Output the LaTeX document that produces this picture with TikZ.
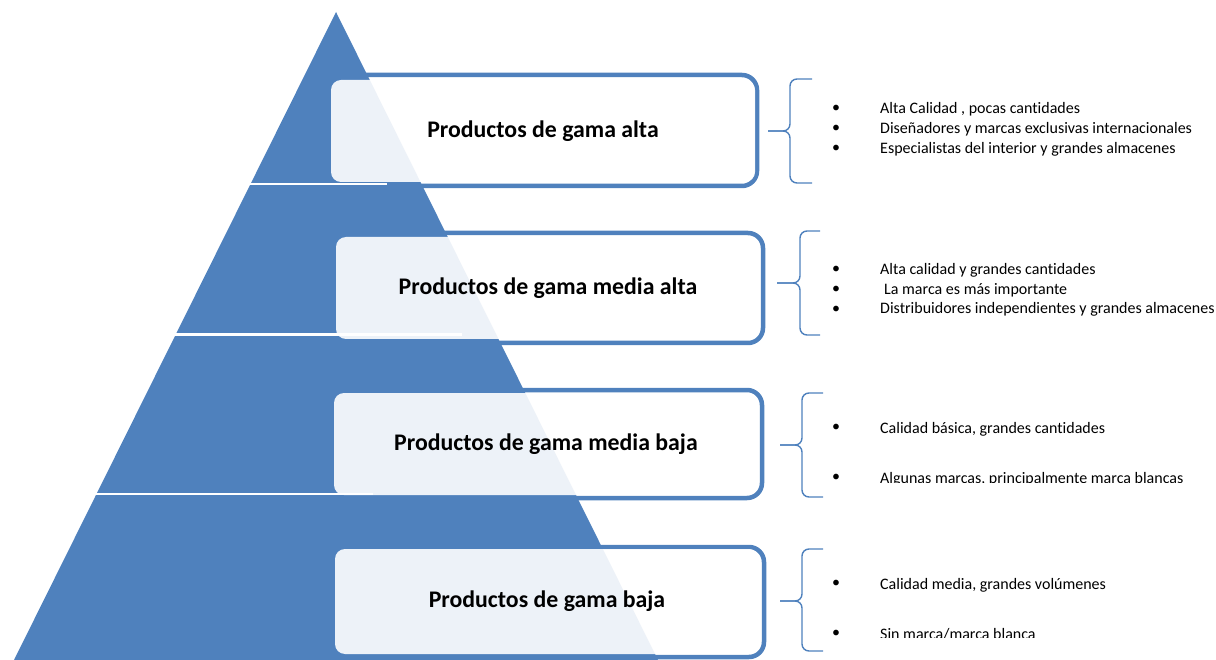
\documentclass[tikz,border=0pt]{standalone}
\usepackage{fontspec}
\setmainfont[Ligatures={TeX,NoCommon}]{Carlito}
\usetikzlibrary{positioning}
\definecolor{gamablue}{HTML}{4F81BD}

\begin{document}
\begin{tikzpicture}[x=1pt,y=-1pt,
  framebox/.style={draw=gamablue,line width=4.5pt,rounded corners=15pt,fill=white},
  lightbox/.style={rectangle,rounded corners=10pt,fill=white,fill opacity=0.9,text opacity=1,
    minimum width=424pt,minimum height=102pt,inner sep=0pt,font=\fontsize{23.8}{28}\selectfont\bfseries},
  gap/.style={white,line width=2.5pt},
  listbrace/.style={draw=gamablue,line width=1.4pt,rounded corners=7pt},
  bul/.style={inner sep=0pt,font=\fontsize{16}{19}\selectfont},
  itemtext/.style={anchor=base west,inner sep=0pt,font=\fontsize{16}{19}\selectfont}]
\useasboundingbox (0,0) rectangle (1216,660);
\clip (0,0) rectangle (1216,660);
% frames behind the pyramid
\draw[framebox] (320,75) rectangle (757,186);
\draw[framebox] (327,233) rectangle (763,343);
\draw[framebox] (324,390) rectangle (762,498);
\draw[framebox] (325,547) rectangle (764,657);
% pyramid
\fill[gamablue] (336,12) -- (14,660) -- (658,660) -- cycle;
% levels
\node[lightbox] (alta) at (543,131) {Productos de gama alta};
\node[lightbox] (mediaalta) at (548,288) {Productos de gama media alta};
\node[lightbox] (mediabaja) at (546,444) {Productos de gama media baja};
\node[lightbox,minimum height=105pt] (baja) at (547,601.5) {Productos de gama baja};
\draw[gap] (240,184) -- (387,184);
\draw[gap] (165,334.5) -- (462,334.5);
\draw[gap] (85,494) -- (373,494);
% braces
\draw[listbrace] (812,79) -- (790,79) -- (790,131) -- (768,131);
\draw[listbrace] (812,183) -- (790,183) -- (790,131) -- (768,131);
\draw[listbrace] (820,231) -- (800,231) -- (800,283) -- (777,283);
\draw[listbrace] (820,335) -- (800,335) -- (800,283) -- (777,283);
\draw[listbrace] (823,393) -- (802,393) -- (802,445) -- (780,445);
\draw[listbrace] (823,497) -- (802,497) -- (802,445) -- (780,445);
\draw[listbrace] (823,549) -- (802,549) -- (802,601) -- (780,601);
\draw[listbrace] (823,651) -- (802,651) -- (802,601) -- (780,601);
% lists
\node[bul] (b11) at (836,109) {•};
\node[itemtext] (t11) at (880,114) {Alta Calidad , pocas cantidades};
\node[bul] (b12) at (836,129) {•};
\node[itemtext] (t12) at (880,134) {Diseñadores y marcas exclusivas internacionales};
\node[bul] (b13) at (836,149) {•};
\node[itemtext] (t13) at (880,154) {Especialistas del interior y grandes almacenes};
\node[bul] (b21) at (836,270) {•};
\node[itemtext] (t21) at (880,275) {Alta calidad y grandes cantidades};
\node[bul] (b22) at (836,290) {•};
\node[itemtext] (t22) at (884,294.5) {La marca es más importante};
\node[bul] (b23) at (836,310) {•};
\node[itemtext] (t23) at (880,314) {Distribuidores independientes y grandes almacenes};
\node[bul] (b31) at (836,428) {•};
\node[itemtext] (t31) at (880,433) {Calidad básica, grandes cantidades};
\node[bul] (b41) at (836,584) {•};
\node[itemtext] (t41) at (880,589) {Calidad media, grandes volúmenes};
\begin{scope}
\clip (826,460) rectangle (1216,482);
\node[bul] (b32) at (836,478) {•};
\node[itemtext] (t32) at (880,483) {Algunas marcas, principalmente marca blancas};
\end{scope}
\begin{scope}
\clip (826,615) rectangle (1216,637);
\node[bul] (b42) at (836,634) {•};
\node[itemtext] (t42) at (880,639) {Sin marca/marca blanca};
\end{scope}
\end{tikzpicture}
\end{document}
